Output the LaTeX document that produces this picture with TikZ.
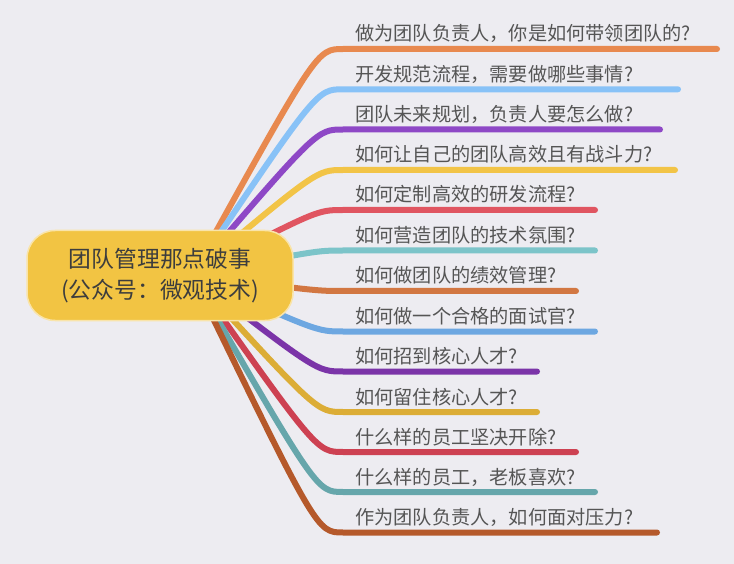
\documentclass[tikz,border=0pt]{standalone}
\usepackage{fontspec}
\setmainfont{Noto Sans CJK SC}
\usepackage{tikz}
\definecolor{bg}{HTML}{EDECF1}
\definecolor{rootfill}{HTML}{F2C443}
\definecolor{leaftext}{HTML}{555555}
\definecolor{roottext}{HTML}{3D3D3D}
\definecolor{cone}{HTML}{E8894F}
\definecolor{ctwo}{HTML}{88C2F7}
\definecolor{cthree}{HTML}{8E48C6}
\definecolor{cfour}{HTML}{F2C447}
\definecolor{cfive}{HTML}{E05561}
\definecolor{csix}{HTML}{7CC4C9}
\definecolor{cseven}{HTML}{D27742}
\definecolor{ceight}{HTML}{6DA7E1}
\definecolor{cnine}{HTML}{7B34A8}
\definecolor{cten}{HTML}{DCAD36}
\definecolor{celeven}{HTML}{CD4152}
\definecolor{ctwelve}{HTML}{66A6AB}
\definecolor{cthirteen}{HTML}{B5592B}
\tikzstyle{branch}=[line width=6pt,line cap=round]
\tikzstyle{leaf}=[anchor=base west,inner sep=0pt,text=leaftext,font=\fontsize{19.2}{23}\selectfont]
\tikzstyle{rootbox}=[draw=white!55!rootfill,line width=1.5pt,fill=rootfill,rounded corners=28pt,
  minimum width=266pt,minimum height=90pt,inner sep=0pt,align=center,text=roottext,
  font=\fontsize{22.8}{31.3}\selectfont]
\newcommand{\branch}[5]{
  \coordinate (#1s) at (343,#2);
  \coordinate (#1e) at (#3,#2);
  \draw[branch,#4] (o) .. controls (317,#2) .. (#1s) -- (#1e);
  \node[leaf] (#1) at (355,#2-8) {#5};
}

\begin{document}
\begin{tikzpicture}[x=1pt,y=-1pt]
\fill[bg] (0,0) rectangle (734,564);
\coordinate (o) at (192,275);
\branch{lead}{49}{717}{cone}{做为团队负责人，你是如何带领团队的?}
\branch{spec}{89.3}{678}{ctwo}{开发规范流程，需要做哪些事情?}
\branch{plan}{129.5}{660}{cthree}{团队未来规划，负责人要怎么做?}
\branch{power}{170}{675}{cfour}{如何让自己的团队高效且有战斗力?}
\branch{flow}{210}{595}{cfive}{如何定制高效的研发流程?}
\branch{tech}{250.5}{595}{csix}{如何营造团队的技术氛围?}
\branch{kpi}{291}{576}{cseven}{如何做团队的绩效管理?}
\branch{interview}{331.5}{595}{ceight}{如何做一个合格的面试官?}
\branch{hire}{371.5}{537}{cnine}{如何招到核心人才?}
\branch{keep}{412}{537}{cten}{如何留住核心人才?}
\branch{fire}{452}{576}{celeven}{什么样的员工坚决开除?}
\branch{boss}{492}{595}{ctwelve}{什么样的员工，老板喜欢?}
\branch{stress}{532.5}{657}{cthirteen}{作为团队负责人，如何面对压力?}
\node[rootbox] (root) at (160,275.5) {团队管理那点破事\\(公众号：微观技术)};
\end{tikzpicture}
\end{document}
